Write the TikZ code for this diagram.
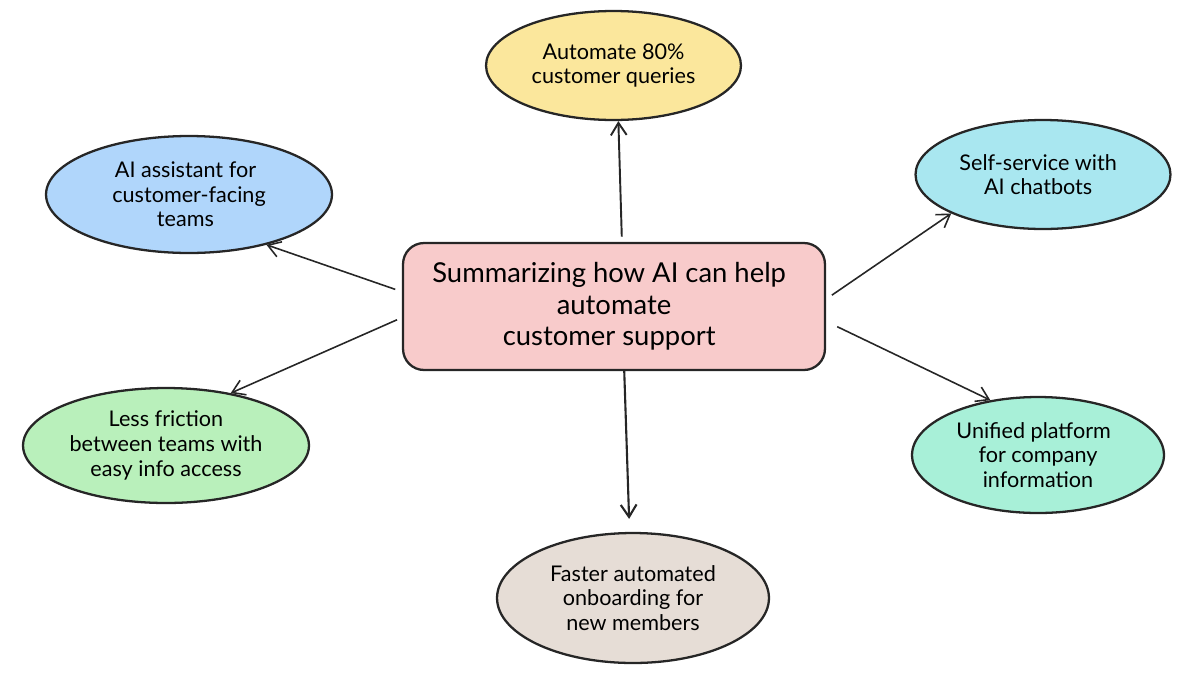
\documentclass[tikz,border=0pt]{standalone}
\usepackage{fontspec}
\setmainfont{Lato}
\usetikzlibrary{arrows.meta,shapes.geometric}

\definecolor{hubfill}{HTML}{F8CBCB}
\definecolor{queryfill}{HTML}{FBE79C}
\definecolor{assistfill}{HTML}{B0D6FB}
\definecolor{chatfill}{HTML}{A9E7F0}
\definecolor{frictionfill}{HTML}{B9F0BB}
\definecolor{platformfill}{HTML}{A8F0D8}
\definecolor{onboardfill}{HTML}{E6DDD6}

% pushes a centred line to the left
\newcommand\nudge[1]{\hspace*{#1pt}}

\tikzset{
  topic/.style={ellipse, draw=black!85, line width=1.3pt, inner sep=0pt, align=center,
    font=\fontsize{12.3}{14}\selectfont},
  link/.style={-{Straight Barb[length=7pt,width=9pt]}, line width=0.9pt, black!85},
}

\begin{document}
\begin{tikzpicture}[x=0.02cm, y=-0.02cm, line join=round]

  % Page frame, in pixels of the 1200x687 sheet
  \useasboundingbox (0,0) rectangle (1200,687);

  % Centre box
  \node (hub) at (614,306.5) [draw=black!85, fill=hubfill, line width=1.3pt, rounded corners=0.42cm,
    minimum width=8.44cm, minimum height=2.54cm, inner sep=0pt, align=center,
    font=\fontsize{15.6}{18}\selectfont]
    {Summarizing how AI can help\nudge{5.5}\\automate\nudge{5.5}\\customer support\nudge{5.5}};

  % Surrounding topics
  \node[topic, fill=queryfill, minimum width=5.1cm, minimum height=2.18cm] (queries) at (613.5,65.5)
    {Automate 80\%\\customer queries};
  \node[topic, fill=assistfill, minimum width=5.72cm, minimum height=2.34cm] (assist) at (189,194.5)
    {AI assistant for\nudge{4}\\customer-facing\nudge{4}\\teams\nudge{4}};
  \node[topic, fill=chatfill, minimum width=5.1cm, minimum height=2.18cm] (chat) at (1043,174.5)
    {Self-service with\nudge{5.5}\\AI chatbots\nudge{5.5}};
  \node[topic, fill=frictionfill, minimum width=5.72cm, minimum height=2.3cm] (friction) at (166,445.5)
    {Less friction\\between teams with\\easy info access};
  \node[topic, fill=platformfill, minimum width=5.04cm, minimum height=2.32cm] (platform) at (1038,455)
    {Unified platform\nudge{5}\\for company\nudge{5}\\information};
  \node[topic, fill=onboardfill, minimum width=5.44cm, minimum height=2.6cm] (onboard) at (633,598)
    {Faster automated\\onboarding for\nudge{5}\\new members};

  % Connectors
  \draw[link, line width=1.1pt, shorten <=3pt] (hub.83.7) -- (queries.-85.4);
  \draw[link, shorten <=4pt] (hub.176.6) -- (assist.-33.6);
  \draw[link, shorten <=3pt] (hub.183.7) -- (friction.39);
  \draw[link, shorten <=4pt] (hub.2.6) -- (chat.203);
  \draw[link, shorten <=7pt] (hub.-4.5) -- (platform.131.6);
  \draw[link, line width=1.2pt, shorten >=7.4pt] (hub.-81.9) -- (onboard.93);

\end{tikzpicture}
\end{document}
